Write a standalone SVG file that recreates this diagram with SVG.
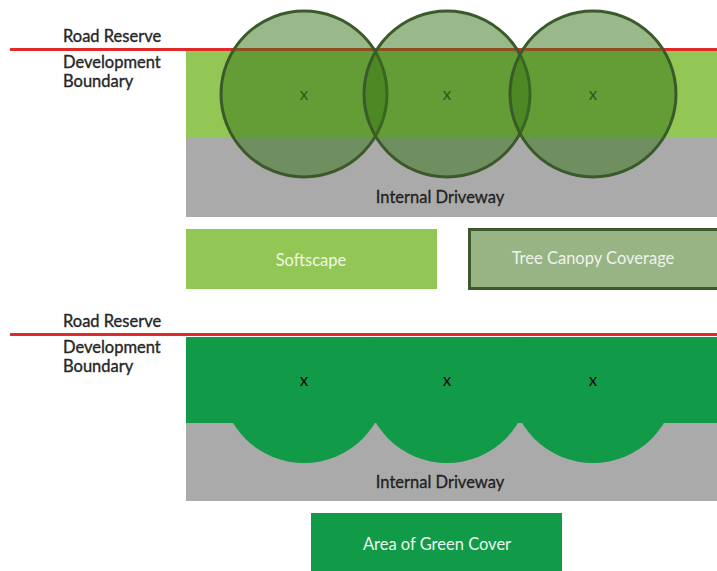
<svg xmlns="http://www.w3.org/2000/svg" width="717" height="571" viewBox="0 0 717 571">
<style>
.lbl{font-family:Lato,"Liberation Sans",sans-serif;font-size:16.5px;fill:#262626;stroke:#262626;stroke-width:0.35}
.mid{font-family:Lato,"Liberation Sans",sans-serif;font-size:16.5px;text-anchor:middle}
.dark{fill:#1f1f1f;stroke:#1f1f1f;stroke-width:0.3}
.red{stroke:#e02a2a;stroke-width:3}
.canopy{fill:rgb(53,115,21);fill-opacity:0.5;stroke:#3a5a2c;stroke-width:3}
.mark{font-family:Lato,"Liberation Sans",sans-serif;font-size:17px;text-anchor:middle}
</style>
<defs>
<clipPath id="bandclip"><rect x="186" y="337" width="531" height="164"/></clipPath>
</defs>
<rect width="717" height="571" fill="#ffffff"/>

<g id="top-panel">
<rect x="186" y="51" width="531" height="87" fill="#92c655"/>
<rect x="186" y="138" width="531" height="79" fill="#aaaaaa"/>
<line class="red" x1="10" y1="49.5" x2="717" y2="49.5"/>
<text class="lbl" x="63" y="42">Road Reserve</text>
<text class="lbl" x="63" y="68">Development</text>
<text class="lbl" x="63" y="87">Boundary</text>
<text class="mid dark" x="440" y="203">Internal Driveway</text>
</g>

<g id="tree1"><circle class="canopy" cx="304" cy="94" r="83"/></g>
<g id="tree2"><circle class="canopy" cx="447" cy="94" r="83"/></g>
<g id="tree3"><circle class="canopy" cx="593" cy="94" r="83"/></g>
<g id="tree-marks" fill="#2f5a1e">
<text class="mark" x="304" y="100">x</text>
<text class="mark" x="447" y="100">x</text>
<text class="mark" x="593" y="100">x</text>
</g>

<g id="softscape">
<rect x="186" y="229" width="251" height="60" fill="#92c655"/>
<text class="mid" x="311" y="266" fill="#eef7e4">Softscape</text>
</g>
<g id="tree-canopy-coverage">
<rect x="469.5" y="229.5" width="249" height="59" fill="#98b485" stroke="#3a5a2c" stroke-width="3"/>
<text class="mid" x="593" y="264" fill="#eef3ea">Tree Canopy Coverage</text>
</g>

<g id="bottom-panel">
<rect x="186" y="337" width="531" height="164" fill="#aaaaaa"/>
<g clip-path="url(#bandclip)" fill="#119a48">
<rect x="186" y="337" width="531" height="86"/>
<circle cx="304" cy="380" r="83"/>
<circle cx="447" cy="380" r="83"/>
<circle cx="593" cy="380" r="83"/>
</g>
<line class="red" x1="10" y1="334.5" x2="717" y2="334.5"/>
<text class="lbl" x="63" y="327">Road Reserve</text>
<text class="lbl" x="63" y="353">Development</text>
<text class="lbl" x="63" y="372">Boundary</text>
<g fill="#111111">
<text class="mark" x="304" y="386">x</text>
<text class="mark" x="447" y="386">x</text>
<text class="mark" x="593" y="386">x</text>
</g>
<text class="mid dark" x="440" y="488">Internal Driveway</text>
</g>

<g id="area-of-green-cover">
<rect x="311" y="513" width="251" height="58" fill="#119a48"/>
<text class="mid" x="437" y="550" fill="#eaf6ee">Area of Green Cover</text>
</g>
</svg>
